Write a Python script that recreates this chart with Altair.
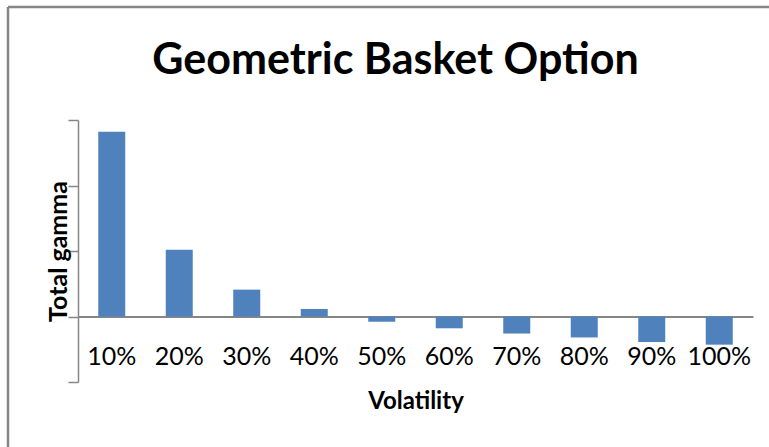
import altair as alt
import pandas as pd

categories = ["10%", "20%", "30%", "40%", "50%", "60%", "70%", "80%", "90%", "100%"]
gamma = [2.82, 1.02, 0.41, 0.115, -0.08, -0.18, -0.26, -0.32, -0.39, -0.43]
y_ticks = [-1, 0, 1, 2, 3]

df = pd.DataFrame({"Volatility": categories, "gamma": gamma})

FONT = "Lato"
GRAY = "#868686"

bars = alt.Chart(df).mark_bar(color="#4F81BD").encode(
    x=alt.X(
        "Volatility:N",
        sort=categories,
        scale=alt.Scale(paddingInner=0.6, paddingOuter=0.3),
        axis=alt.Axis(
            title="Volatility",
            titleFont=FONT,
            titleFontSize=24,
            titleFontWeight="bold",
            titleColor="black",
            titlePadding=20,
            labelFont=FONT,
            labelFontSize=25,
            labelColor="black",
            labelAngle=0,
            labelPadding=28,
            ticks=False,
            domainColor=GRAY,
            domainWidth=2,
            offset=-65.5,
        ),
    ),
    y=alt.Y(
        "gamma:Q",
        scale=alt.Scale(domain=[-1, 3], nice=False, zero=False),
        axis=alt.Axis(
            values=y_ticks,
            labels=False,
            grid=False,
            tickSize=10,
            tickColor=GRAY,
            tickWidth=1.5,
            domainColor=GRAY,
            domainWidth=1.5,
            title="Total gamma",
            titleFont=FONT,
            titleFontSize=25,
            titleFontWeight="bold",
            titleColor="black",
            titlePadding=-4,
        ),
    ),
)

frame_df = pd.DataFrame({"a": [0]})
top_line = alt.Chart(frame_df).mark_rule(color=GRAY, strokeWidth=2.5).encode(
    x=alt.value(-70), x2=alt.value(700), y=alt.value(-113)
)
left_line = alt.Chart(frame_df).mark_rule(color=GRAY, strokeWidth=2.5).encode(
    x=alt.value(-70), y=alt.value(-113), y2=alt.value(340)
)

chart = alt.layer(bars, top_line, left_line).properties(
    width=675,
    height=262,
    autosize=alt.AutoSizeParams(type="none"),
    padding={"left": 78, "top": 120, "right": 16, "bottom": 65},
    background="white",
    title=alt.TitleParams(
        "Geometric Basket Option",
        font=FONT,
        fontSize=43,
        fontWeight="bold",
        color="black",
        anchor="middle",
        dx=-20,
        offset=-77,
    ),
).configure_view(stroke=None)

chart.save("out.html", embed_options={"renderer": "svg", "actions": False})
